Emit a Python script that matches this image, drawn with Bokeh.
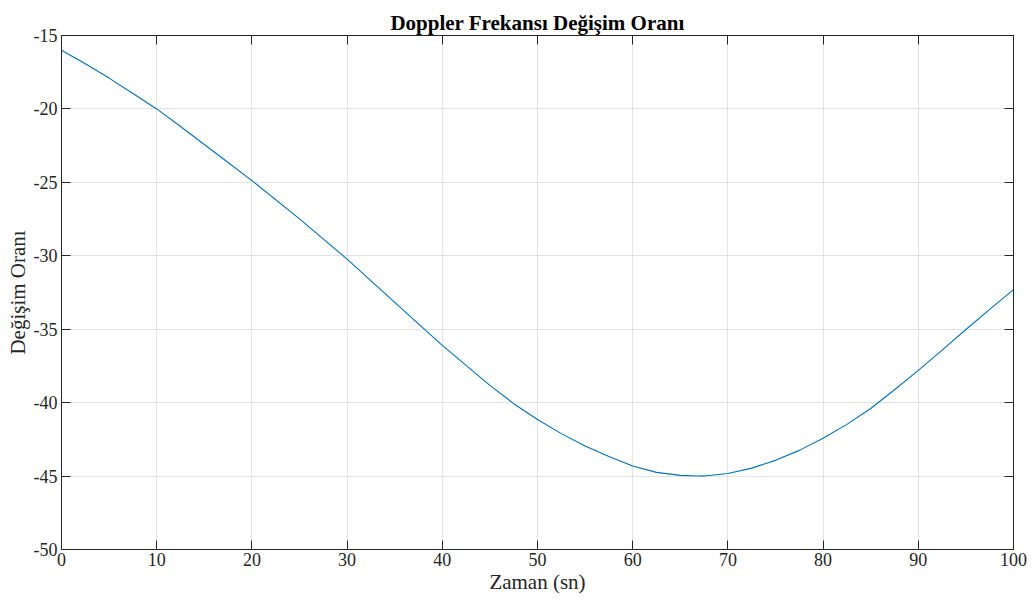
from bokeh.plotting import figure
from bokeh.models import LinearAxis, Range1d, FixedTicker, CustomJSTickFormatter
from bokeh.embed import file_html
from bokeh.resources import INLINE

time_s = [0, 2.5, 5, 7.5, 10, 12.5, 15, 17.5, 20, 25, 30, 35, 40, 45, 47.5, 50, 52.5, 55,
          57.5, 60, 62.5, 65, 66.75, 67.5, 70, 72.5, 75, 77.5, 80, 82.5, 85, 87.5, 90,
          92.5, 95, 97.5, 100]
rate = [-16.0, -16.93, -17.9, -18.95, -20.0, -21.2, -22.42, -23.65, -24.88, -27.49, -30.23,
        -33.17, -36.1, -38.82, -40.07, -41.15, -42.11, -42.95, -43.67, -44.32, -44.75,
        -44.95, -45.0, -44.99, -44.82, -44.46, -43.93, -43.25, -42.43, -41.48, -40.4,
        -39.12, -37.8, -36.42, -35.02, -33.65, -32.3]
x_ticks = [0, 10, 20, 30, 40, 50, 60, 70, 80, 90, 100]
y_ticks = [-50, -45, -40, -35, -30, -25, -20, -15]

FONT = "Liberation Serif"
AX = "#262626"

p = figure(width=1035, height=603, output_backend="svg", toolbar_location=None,
           x_range=Range1d(0, 100), y_range=Range1d(-50, -15),
           min_border_left=61, min_border_right=22, min_border_top=35, min_border_bottom=54,
           x_axis_label="Zaman (sn)", y_axis_label="Değişim Oranı")

p.line(time_s, rate, line_color="#0072BD", line_width=1.1)

p.title.text = "Doppler Frekansı Değişim Oranı"
p.title.align = "center"
p.title.text_font = FONT
p.title.text_font_size = "21px"
p.title.text_font_style = "bold"
p.title.text_color = "#000000"
p.title.offset = 0
p.title.standoff = 1

plain = CustomJSTickFormatter(code="return tick.toString();")
blank = CustomJSTickFormatter(code="return '';")

for ax in (p.xaxis[0], p.yaxis[0]):
    ax.formatter = plain
    ax.major_label_text_font = FONT
    ax.major_label_text_font_size = "18px"
    ax.major_label_text_color = AX
    ax.axis_label_text_font = FONT
    ax.axis_label_text_font_size = "21px"
    ax.axis_label_text_font_style = "normal"
    ax.axis_label_text_color = AX
    ax.axis_line_color = AX
    ax.major_tick_line_color = AX
    ax.major_tick_in = 9
    ax.major_tick_out = 0
    ax.minor_tick_line_color = None

p.xaxis[0].major_label_standoff = 3
p.xaxis[0].axis_label_standoff = 1
p.yaxis[0].major_label_standoff = 4
p.yaxis[0].axis_label_standoff = 1

p.xaxis[0].ticker = FixedTicker(ticks=x_ticks)
p.yaxis[0].ticker = FixedTicker(ticks=y_ticks)

top = LinearAxis(ticker=FixedTicker(ticks=x_ticks), formatter=blank,
                 major_tick_in=9, major_tick_out=0, minor_tick_line_color=None,
                 axis_line_color=AX, major_tick_line_color=AX, major_label_standoff=0)
right = LinearAxis(ticker=FixedTicker(ticks=y_ticks), formatter=blank,
                   major_tick_in=9, major_tick_out=0, minor_tick_line_color=None,
                   axis_line_color=AX, major_tick_line_color=AX, major_label_standoff=0)
p.add_layout(top, "above")
p.add_layout(right, "right")

p.xgrid.ticker = FixedTicker(ticks=x_ticks)
p.ygrid.ticker = FixedTicker(ticks=y_ticks)
p.grid.grid_line_color = "#e3e3e3"
p.grid.grid_line_width = 1
p.outline_line_color = AX
p.background_fill_color = "white"
p.border_fill_color = "white"

open("out.html", "w").write(file_html(p, INLINE))
